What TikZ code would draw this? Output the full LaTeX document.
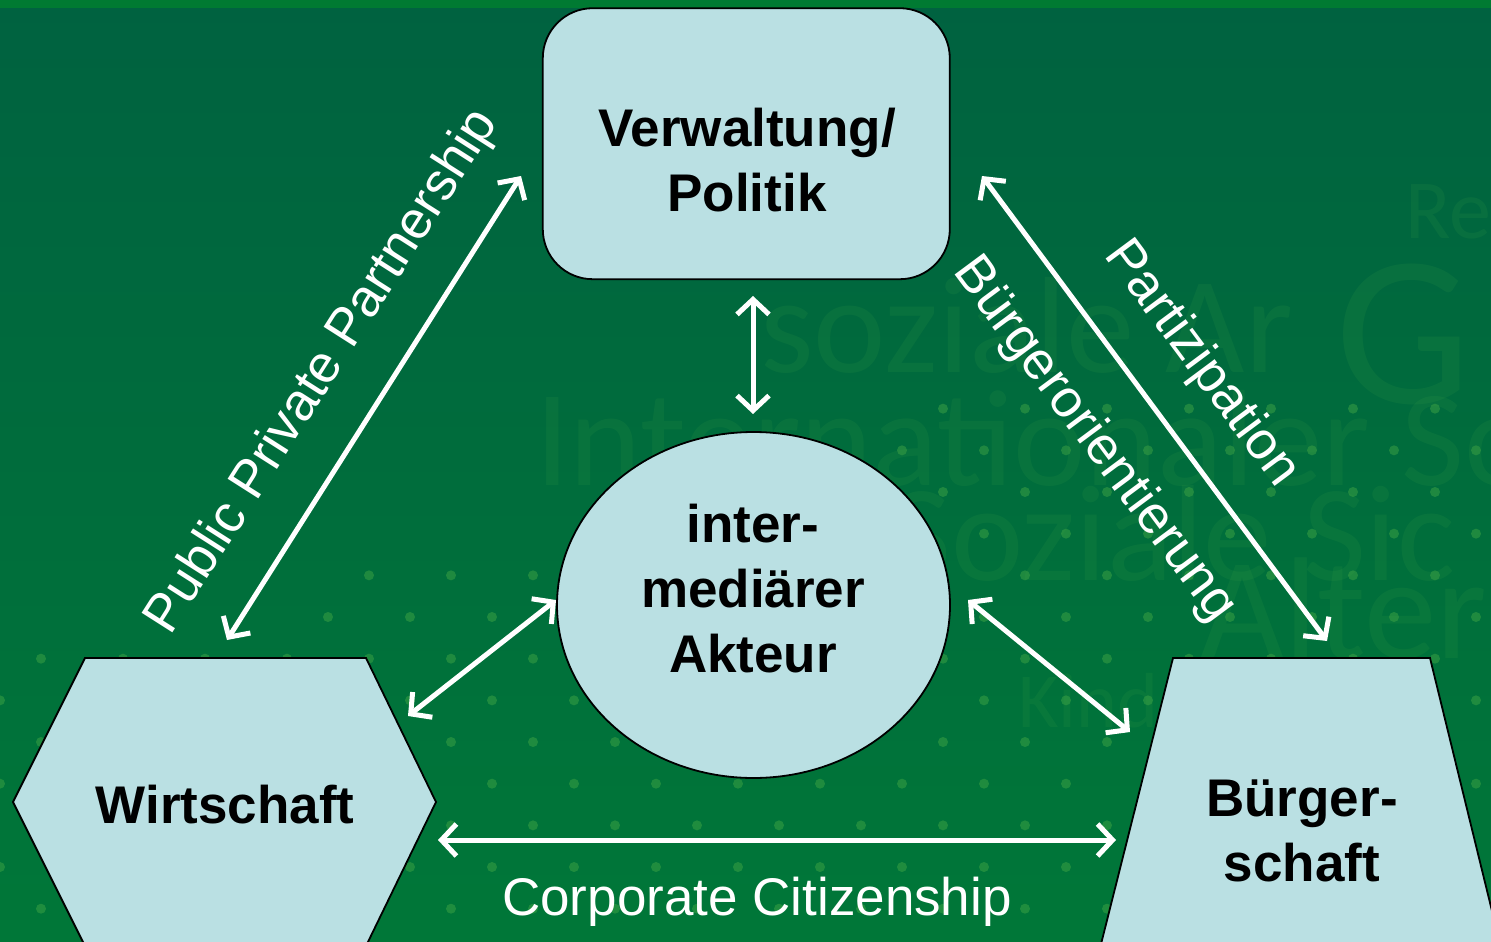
\documentclass[tikz,border=0pt]{standalone}
\usepackage{fontspec}
\setmainfont{Liberation Sans}
\newfontfamily\wmfont{Carlito}
\usetikzlibrary{arrows.meta,shapes.geometric}
\definecolor{bgtop}{RGB}{0,98,64}
\definecolor{bgbot}{RGB}{0,119,56}
\definecolor{stripc}{RGB}{0,122,50}
\definecolor{boxfill}{RGB}{186,224,227}
\definecolor{dotc}{RGB}{70,170,70}
\definecolor{wmc}{RGB}{60,160,70}
\begin{document}
\begin{tikzpicture}[x=1pt,y=-1pt,
  shapebox/.style={fill=boxfill,draw=black,line width=1.8pt},
  lbl/.style={font=\fontsize{53}{65}\selectfont\bfseries,align=center,text=black,inner sep=0pt},
  conn/.style={draw=white,line width=5pt,{Straight Barb[length=15pt,width=32pt]}-{Straight Barb[length=15pt,width=32pt]}},
  rel/.style={font=\fontsize{53}{64}\selectfont,text=white,inner sep=0pt},
  wm/.style={text=wmc,opacity=0.15,anchor=base west,inner sep=0pt}
]
\useasboundingbox (0,0) rectangle (1491,942);
\begin{scope}
\clip (0,0) rectangle (1491,942);
% background
\shade[top color=bgtop,bottom color=bgbot] (0,0) rectangle (1491,942);
\fill[stripc] (0,0) rectangle (1491,8);
% dot pattern
\foreach \j in {-5,...,8}{
  \pgfmathsetmacro\yy{617+41.67*\j}
  \pgfmathsetmacro\off{mod(\j+10,2)*41}
  \foreach \k in {0,...,18}{
    \pgfmathsetmacro\xx{\off+82*\k}
    \pgfmathtruncatemacro\ok{(\yy>640 || (\yy>560 && \xx>300) || (\xx>900 && \yy>400)) ? 1 : 0}
    \ifnum\ok=1 \fill[dotc,opacity=0.45] (\xx,\yy) circle (5pt);\fi
  }
}
% watermark
\node[wm,font=\wmfont\fontsize{137}{140}\selectfont] (wm1) at (535,485) {Internationaler So};
\node[wm,font=\wmfont\fontsize{137}{140}\selectfont] (wm2) at (888,580) {Soziale Sic};
\node[wm,font=\wmfont\fontsize{145}{150}\selectfont] (wm3) at (1200,658) {Alter};
\node[wm,font=\wmfont\fontsize{137}{140}\selectfont] (wm4) at (760,372) {soziale Ar};
\node[wm,font=\wmfont\fontsize{215}{220}\selectfont] (wm5) at (1335,403) {G};
\node[wm,font=\wmfont\fontsize{84}{90}\selectfont] (wm6) at (1405,238) {Re};
\node[wm,font=\wmfont\fontsize{78}{80}\selectfont] (wm7) at (1018,727) {Kind};

% shapes
\node[shapebox,rectangle,rounded corners=50pt,minimum width=407pt,minimum height=271pt,inner sep=0pt] (verwbox) at (746.3,143.7) {};
\node[shapebox,ellipse,minimum width=393pt,minimum height=346pt,inner sep=0pt] (interbox) at (753.5,605) {};
\draw[shapebox] (85,658) -- (366,658) -- (436,802) -- (366,946) -- (85,946) -- (13,802) -- cycle;
\draw[shapebox] (1173,658) -- (1430,658) -- (1504,960) -- (1097,960) -- cycle;

% texts in shapes
\node[lbl] (verw) at (747,160.5) {Verwaltung/\\Politik};
\node[lbl] (inter) at (753,589) {inter-\\mediärer\\Akteur};
\node[lbl,anchor=base] (wirt) at (225,823) {Wirtschaft};
\node[lbl] (buerg) at (1302,830.5) {Bürger-\\schaft};

% connector end points
\coordinate (pppW) at (227,640);
\coordinate (pppV) at (521,176);
\coordinate (vtV) at (753,296);
\coordinate (vtI) at (753,414);
\coordinate (parV) at (982,176);
\coordinate (parB) at (1327,641);
\coordinate (liW) at (408,716);
\coordinate (liI) at (556,600);
\coordinate (reI) at (968,600);
\coordinate (reB) at (1130,732);
\coordinate (hoW) at (438,840);
\coordinate (hoB) at (1116,840);

\draw[conn] (pppW) -- (pppV);
\draw[conn] (vtV) -- (vtI);
\draw[conn] (parV) -- (parB);
\draw[conn] (liW) -- (liI);
\draw[conn] (reI) -- (reB);
\draw[conn] (hoW) -- (hoB);

% relation labels
\node[rel,rotate=57.5] (ppp) at (323,372) {Public Private Partnership};
\node[rel,rotate=-53.4] (part) at (1201,364) {Partizipation};
\node[rel,rotate=-53.4] (borient) at (1094,440) {Bürgerorientierung};
\node[rel,anchor=base] (cc) at (757,915) {Corporate Citizenship};
\end{scope}
\end{tikzpicture}
\end{document}
